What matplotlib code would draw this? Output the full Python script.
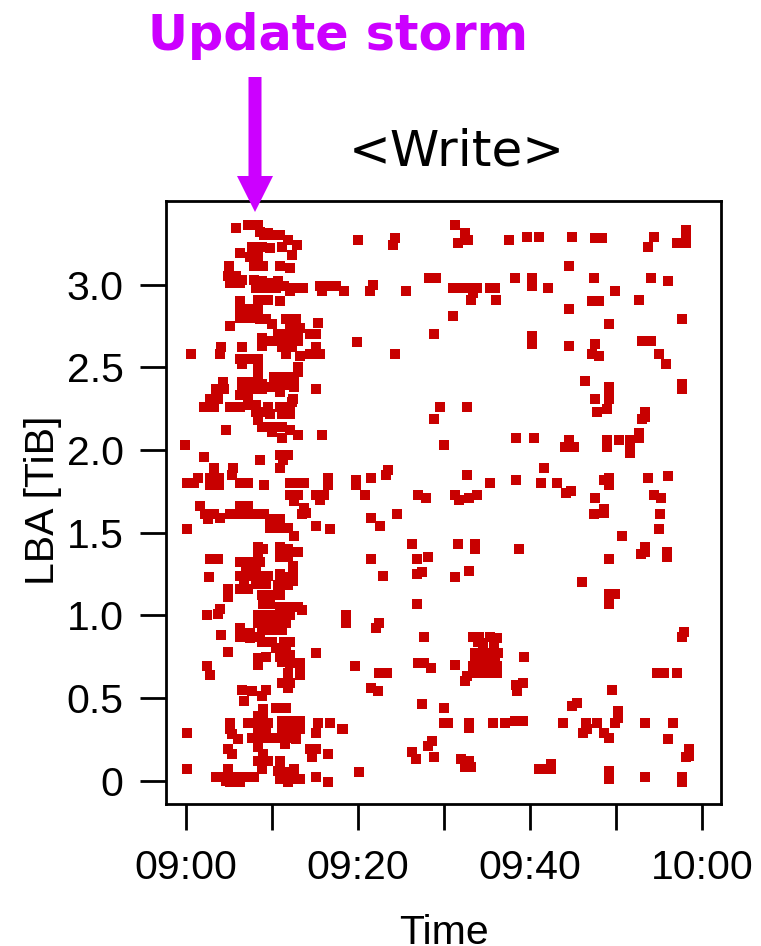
import matplotlib
matplotlib.use("Agg")
import matplotlib.pyplot as plt
import numpy as np
from matplotlib.patches import FancyArrow
from matplotlib.transforms import IdentityTransform

# (minutes after 09:00, LBA in TiB)
storm_points = [
(5.80,3.34),(7.20,3.36),(8.36,3.36),(8.59,3.32),(9.52,3.31),(9.05,3.30),(10.21,3.30),(10.91,3.30),(11.84,3.27),(12.88,3.24),
(7.66,3.23),(8.82,3.23),(9.75,3.22),(8.12,3.20),(6.27,3.19),(7.43,3.17),(8.36,3.17),(11.14,3.23),(12.30,3.18),(4.99,3.11),
(7.89,3.11),(8.94,3.11),(10.91,3.11),(12.07,3.10),(4.87,3.05),(5.80,3.05),(6.50,3.03),(5.11,3.01),(6.27,3.01),(7.89,3.03),
(8.82,3.02),(9.75,3.01),(10.68,3.02),(8.12,2.98),(9.28,2.98),(10.44,2.98),(11.37,2.99),(12.53,2.98),(13.58,2.98),(12.07,2.96),
(15.55,2.99),(16.48,2.99),(17.41,2.99),(15.78,2.96),(18.34,2.96),(6.27,2.90),(8.36,2.91),(9.52,2.91),(10.91,2.90),(6.27,2.85),
(7.43,2.85),(8.36,2.85),(6.27,2.80),(7.43,2.80),(8.59,2.79),(9.28,2.79),(9.98,2.76),(5.11,2.75),(11.61,2.79),(12.77,2.79),
(13.23,2.74),(12.07,2.73),(15.32,2.77),(10.68,2.70),(11.84,2.70),(13.00,2.70),(10.68,2.66),(11.84,2.66),(13.00,2.66),(11.14,2.62),
(12.30,2.62),(8.82,2.68),(9.75,2.66),(8.82,2.63),(14.39,2.70),(15.09,2.70),(15.09,2.62),(14.39,2.58),(15.55,2.58),(4.06,2.62),
(3.95,2.58),(0.58,2.58),(6.50,2.62),(11.61,2.58),(13.23,2.57),(6.27,2.55),(7.43,2.55),(8.36,2.55),(6.50,2.52),(8.36,2.51),
(13.00,2.50),(13.00,2.47),(8.36,2.46),(10.21,2.44),(11.37,2.44),(12.53,2.44),(10.21,2.39),(11.37,2.39),(12.53,2.38),(10.91,2.35),
(6.50,2.41),(7.66,2.41),(8.82,2.40),(6.50,2.37),(7.66,2.37),(8.82,2.37),(9.75,2.38),(4.29,2.41),(3.48,2.37),(4.41,2.37),
(6.27,2.33),(7.20,2.32),(2.79,2.31),(3.71,2.31),(15.09,2.37),(12.42,2.31),
(2.09,2.26),(3.25,2.26),(5.11,2.26),(6.27,2.26),(7.43,2.27),(8.12,2.27),(8.12,2.23),(9.28,2.23),(9.75,2.22),(8.36,2.18),
(9.52,2.26),(10.91,2.26),(12.07,2.26),(11.14,2.22),(12.07,2.22),(12.30,2.29),(4.64,2.12),(8.82,2.14),(9.98,2.14),(11.14,2.14),
(12.07,2.12),(9.98,2.11),(11.14,2.07),(13.00,2.09),(15.78,2.09),(-0.12,2.03),(2.09,1.96),(8.59,1.94),(10.91,1.97),(11.84,1.97),
(11.26,1.94),(3.25,1.89),(5.45,1.89),(5.34,1.85),(10.91,1.89),(0.12,1.80),(0.93,1.80),(1.39,1.83),(2.79,1.83),(3.83,1.83),
(2.79,1.79),(3.83,1.79),(6.27,1.80),(7.20,1.80),(9.05,1.79),(12.07,1.80),(13.00,1.80),(13.69,1.80),(16.48,1.83),(16.48,1.79),
(12.07,1.73),(13.00,1.73),(12.53,1.69),(15.09,1.73),(16.01,1.73),(15.55,1.70),(1.62,1.66),(6.27,1.66),(7.20,1.66),(2.20,1.61),
(3.25,1.61),(3.95,1.59),(2.55,1.58),(5.11,1.61),(6.27,1.61),(7.43,1.61),(8.12,1.61),(9.05,1.61),(9.75,1.58),(13.69,1.65),
(13.93,1.62),(13.46,1.61),(0.12,1.52),(9.75,1.53),(10.91,1.53),(11.84,1.53),(10.91,1.58),(12.53,1.48),(15.09,1.54),(16.71,1.52),
(8.36,1.41),(8.94,1.40),(8.36,1.36),(10.91,1.41),(11.84,1.40),(10.91,1.35),(11.84,1.35),(13.00,1.38),(2.79,1.34),(3.71,1.34),
(6.27,1.32),(7.43,1.32),(8.59,1.32),(6.96,1.28),(8.12,1.28),(12.42,1.30),(12.42,1.25),(12.42,1.21),(10.91,1.25),(11.84,1.23),
(10.91,1.19),(6.27,1.24),(7.43,1.24),(8.59,1.24),(9.52,1.24),(6.73,1.19),(8.12,1.19),(9.28,1.19),(2.67,1.23),(4.87,1.16),
(4.87,1.11),(6.27,1.16),(7.20,1.16),(8.82,1.12),(9.98,1.12),(10.91,1.12),(10.68,1.18),(11.84,1.18),
(8.94,1.07),(9.75,1.07),(10.91,1.05),(12.07,1.05),(13.00,1.05),(10.91,1.00),(12.07,1.00),(13.46,1.03),(2.44,1.00),(3.95,1.04),
(3.71,1.01),(18.57,1.00),(18.57,0.95),(8.36,1.00),(9.52,1.00),(10.68,1.00),(8.36,0.95),(9.52,0.95),(10.68,0.95),(11.61,0.95),
(8.82,0.91),(9.98,0.91),(11.14,0.91),(6.27,0.92),(6.27,0.87),(7.43,0.89),(8.59,0.87),(7.43,0.86),(4.06,0.88),(8.82,0.84),
(9.98,0.84),(11.37,0.84),(12.07,0.84),(10.44,0.80),(11.61,0.80),(12.07,0.76),(10.91,0.75),(4.87,0.78),(15.09,0.77),(8.36,0.74),
(9.28,0.75),(8.36,0.70),(11.14,0.72),(12.07,0.71),(13.23,0.71),(13.23,0.68),(13.23,0.64),(2.44,0.69),(2.79,0.64),(11.84,0.65),
(11.14,0.59),(12.07,0.59),(11.84,0.56),(6.50,0.55),(7.66,0.54),(9.28,0.55),(8.82,0.51),(6.73,0.48),(8.94,0.43),(8.94,0.40),
(10.44,0.44),(11.61,0.44),(8.36,0.39),(11.14,0.36),(12.30,0.36),(13.23,0.36),(11.14,0.31),(12.30,0.31),(13.23,0.31),(7.20,0.35),
(8.36,0.35),(9.52,0.35),(8.36,0.30),(9.28,0.30),(7.66,0.26),(8.82,0.26),(9.75,0.26),(5.11,0.35),(5.11,0.31),(5.34,0.28),
(6.03,0.25),(10.68,0.26),(11.84,0.26),(12.77,0.25),(11.49,0.22),(0.12,0.29),(15.09,0.29),(15.32,0.35),(16.71,0.35),(18.10,0.31),
(4.87,0.19),(5.34,0.16),(8.36,0.20),(14.39,0.19),(15.09,0.19),(14.62,0.14),(16.48,0.16),(8.94,0.16),(8.36,0.12),(9.52,0.12),
(8.82,0.07),(10.91,0.12),(10.91,0.08),(0.12,0.07),(4.87,0.07),(4.99,0.02),(10.68,0.06),(11.61,0.05),(10.91,0.01),(12.53,0.07),
(3.48,0.02),(4.18,0.02),(4.64,0.00),(5.80,0.02),(6.96,0.02),(7.89,0.02),(5.11,-0.01),(6.27,-0.01),(11.14,0.01),(12.30,0.01),
(13.23,0.01),(11.84,-0.01),(15.09,0.02),(16.48,-0.01),
]

middle_points = [
(31.22,3.36),(32.49,3.31),(31.68,3.25),(32.84,3.27),(19.96,3.27),(24.25,3.28),(24.02,3.24),(37.60,3.27),(39.69,3.29),(28.20,3.04),
(29.01,3.04),(21.70,3.00),(21.35,2.96),(25.53,2.96),(30.99,2.98),(31.91,2.98),(32.73,2.98),(33.89,2.98),(33.42,2.95),(33.19,2.91),
(35.40,2.98),(35.98,2.98),(36.09,2.91),(38.30,3.04),(40.27,3.04),(40.27,2.99),(30.99,2.81),(28.78,2.70),(19.84,2.65),(40.27,2.69),
(40.27,2.64),(24.25,2.58),(29.59,2.26),(32.73,2.26),(28.78,2.19),(29.94,2.03),(38.41,2.07),(23.44,1.88),(23.21,1.85),(21.47,1.83),
(19.73,1.82),(19.73,1.79),(32.73,1.85),(35.40,1.80),(38.41,1.82),(20.77,1.73),(26.92,1.73),(27.85,1.71),(31.33,1.73),(31.80,1.70),
(32.96,1.71),(33.89,1.73),
(21.47,1.59),(22.51,1.54),(24.49,1.61),(26.23,1.43),(31.57,1.43),(33.65,1.43),(33.65,1.40),(38.76,1.40),(21.47,1.34),(26.81,1.34),
(28.08,1.35),(22.86,1.24),(26.81,1.25),(27.39,1.26),(31.22,1.23),(32.96,1.27),(26.81,1.07),(22.40,0.95),(22.05,0.92),(27.62,0.87),
(33.42,0.87),(34.12,0.87),(35.40,0.87),(36.21,0.86),(35.86,0.83),(34.00,0.84),(34.58,0.83),(33.65,0.77),(34.58,0.77),(35.51,0.77),
(36.32,0.77),(33.65,0.75),(34.82,0.75),(35.98,0.75),(39.34,0.75),(19.61,0.69),(26.92,0.71),(27.62,0.71),(28.43,0.68),(31.33,0.70),
(33.42,0.69),(34.35,0.69),(35.28,0.69),(36.21,0.69),(33.42,0.65),(34.35,0.65),(35.28,0.65),(36.21,0.65),(32.73,0.63),(32.49,0.60),
(22.40,0.65),(23.33,0.65),(21.47,0.56),(22.28,0.54),(38.41,0.58),(39.22,0.59),(38.53,0.54),(27.39,0.46),(29.94,0.44),(29.94,0.35),
(30.52,0.35),(32.96,0.35),(32.96,0.32),(35.74,0.35),(37.14,0.35),(38.30,0.36),(39.22,0.36),(18.22,0.31),(28.55,0.24),(28.08,0.21),
(26.23,0.17),(26.69,0.13),(28.78,0.14),(32.03,0.13),(32.96,0.12),(32.49,0.08),(33.19,0.08),(20.08,0.05),
]

late_points = [
(41.08,3.29),(44.91,3.29),(47.58,3.28),(48.39,3.28),(54.43,3.29),(53.73,3.23),(57.10,3.25),(58.14,3.25),(58.14,3.33),(58.14,3.30),
(44.56,3.11),(42.13,2.98),(47.46,3.04),(49.90,2.96),(54.08,3.04),(56.05,3.02),(47.23,2.90),(48.04,2.90),(52.69,2.91),(44.56,2.85),
(57.68,2.79),(49.20,2.76),(44.56,2.63),(47.58,2.64),(47.23,2.58),(48.04,2.57),(53.03,2.66),(54.08,2.66),(55.01,2.58),(55.82,2.52),
(46.42,2.42),(49.20,2.38),(49.20,2.34),(49.20,2.31),(47.58,2.31),(47.81,2.23),(48.97,2.25),(53.38,2.23),(53.38,2.20),(53.03,2.19),
(57.68,2.40),(57.68,2.37),(40.50,2.07),(44.56,2.06),(44.10,2.02),(45.14,2.02),(48.97,2.06),(48.97,2.02),(50.37,2.06),(51.64,2.06),
(51.64,2.02),(51.64,1.98),(52.69,2.10),(52.69,2.07),(41.66,1.89),(41.31,1.80),(43.17,1.80),(44.22,1.74),(44.80,1.75),(48.62,1.82),
(49.20,1.83),(49.20,1.79),(47.58,1.71),(53.73,1.83),(56.05,1.84),(54.43,1.73),(55.24,1.71),
(48.62,1.64),(48.62,1.62),(47.46,1.61),(55.12,1.61),(55.01,1.52),(50.71,1.48),(53.38,1.41),(53.38,1.38),(52.92,1.37),(55.94,1.38),
(55.94,1.35),(49.20,1.34),(46.07,1.20),(49.20,1.13),(49.90,1.13),(49.20,1.07),(57.91,0.90),(57.68,0.87),(54.78,0.65),(55.59,0.65),
(57.10,0.65),(49.55,0.55),(44.91,0.45),(45.49,0.47),(50.25,0.42),(50.25,0.38),(43.87,0.35),(46.54,0.35),(46.65,0.31),(46.19,0.29),
(47.81,0.35),(49.90,0.35),(48.62,0.29),(49.20,0.26),(53.38,0.35),(56.63,0.35),(56.05,0.25),(58.49,0.19),(58.49,0.15),(58.14,0.14),
(42.47,0.10),(42.47,0.07),(41.08,0.07),(42.01,0.07),(49.20,0.06),(49.20,0.01),(53.38,0.02),(57.68,0.02),(57.68,-0.01),
]

x_ticks = [0, 10, 20, 30, 40, 50, 60]
x_tick_labels = ["09:00", "", "09:20", "", "09:40", "", "10:00"]
y_ticks = [0, 0.5, 1.0, 1.5, 2.0, 2.5, 3.0]
y_tick_labels = ["0", "0.5", "1.0", "1.5", "2.0", "2.5", "3.0"]

W, H = 761, 946
fig = plt.figure(figsize=(W / 100, H / 100), dpi=100)
ax = fig.add_axes([166 / W, 1 - 804 / H, (721 - 166) / W, (804 - 201.5) / H])

pts = np.array(storm_points + middle_points + late_points)
ax.scatter(pts[:, 0], pts[:, 1], marker="s", s=42, c="#C80000",
           linewidths=0, zorder=3)

ax.set_xlim(-2.33, 62.21)
ax.set_ylim(-0.142, 3.503)

tick_font = dict(family=["Liberation Sans", "DejaVu Sans"], size=29.5)
ax.set_xticks(x_ticks)
ax.set_xticklabels(x_tick_labels, fontdict=tick_font)
ax.set_yticks(y_ticks)
ax.set_yticklabels(y_tick_labels, fontdict=tick_font)
ax.tick_params(axis="both", direction="out", length=19, width=2.0,
               color="black")
ax.tick_params(axis="x", pad=13.5)
ax.tick_params(axis="y", pad=11.5)
for sp in ax.spines.values():
    sp.set_linewidth(2.0)

fig.text(443.5 / W, 1 - 914 / H, "Time", ha="center", va="top", **tick_font)
fig.text(43 / W, 1 - 500 / H, "LBA [TiB]", ha="center", va="center",
         rotation=90, **tick_font)

fig.text(457 / W, 1 - 165 / H, "<Write>", ha="center", va="baseline",
         family="DejaVu Sans", size=36, color="black")
fig.text(338 / W, 1 - 50 / H, "Update storm", ha="center", va="baseline",
         family="DejaVu Sans", weight="bold", size=35.5, color="#CC00FF")

arrow = FancyArrow(255, H - 77, 0, -(212 - 77), width=13, head_width=36,
                   head_length=36, length_includes_head=True,
                   transform=IdentityTransform(), color="#CC00FF", lw=0,
                   zorder=10)
fig.patches.append(arrow)

fig.savefig("out.png", dpi=100)
